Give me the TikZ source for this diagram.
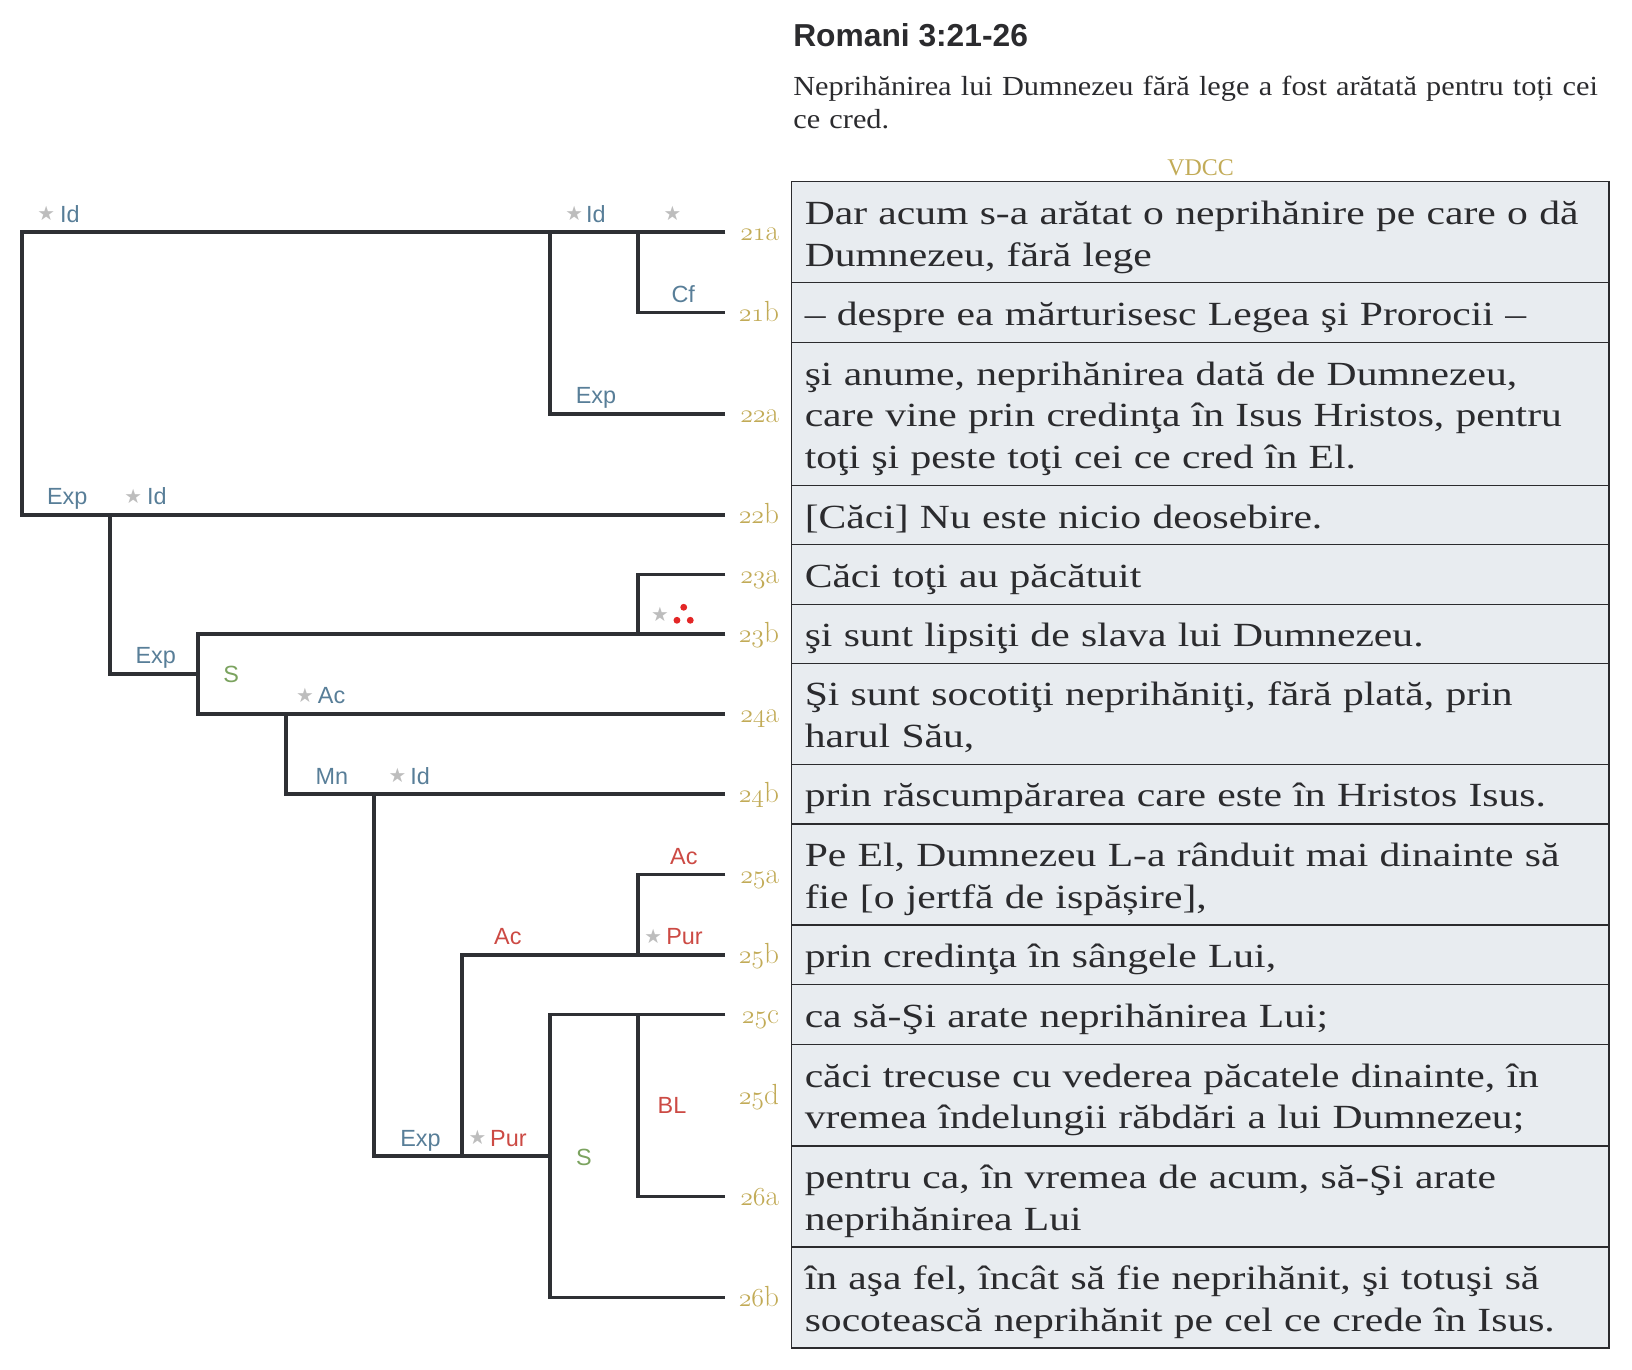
\documentclass[tikz,border=0pt]{standalone}
\usepackage{fontspec}
\setmainfont{Liberation Serif}
\newfontfamily\rowfont{Liberation Serif}[FakeStretch=1.23]
\newfontfamily\leadfont{Liberation Serif}[FakeStretch=1.10]
\newfontfamily\labfont{Liberation Sans}
\newfontfamily\starfont{DejaVu Sans}
\newfontfamily\lmfont{Latin Modern Roman}
\usetikzlibrary{positioning, calc}

\definecolor{inkdark}{HTML}{2B2B2E}
\definecolor{treeline}{HTML}{2E3034}
\definecolor{rowfill}{HTML}{E8ECF0}
\definecolor{versegold}{HTML}{C2AB57}
\definecolor{relblue}{HTML}{587E98}
\definecolor{relred}{HTML}{CC4A44}
\definecolor{relgreen}{HTML}{7BA35F}
\definecolor{stargray}{HTML}{BDBDBD}
\definecolor{dotred}{HTML}{E32626}

% verse number: old-style digits, then the letter
\newcommand\versenum[1]{\expandafter\versesplit#1\relax}
\def\versesplit#1#2#3\relax{{\usefont{OML}{lmm}{b}{it}#1#2}#3}

\begin{document}
\begin{tikzpicture}[
    x=1pt, y=-1pt,
    branch/.style={draw=treeline, line width=3.5pt},
    rowbox/.style={draw=inkdark, line width=1.4pt, fill=rowfill, anchor=north west,
      minimum width=785.3pt, inner sep=0pt, outer sep=0pt},
    rowtext/.style={anchor=base west, text width=770pt, inner sep=0pt, align=left,
      text=inkdark, font=\rowfont\fontsize{32.5}{40}\selectfont},
    verse/.style={anchor=base east, inner sep=0pt, text=versegold,
      font=\lmfont\fontsize{28}{30}\selectfont},
    rel/.style={anchor=base west, inner sep=0pt, font=\labfont\fontsize{22.5}{24}\selectfont},
    relb/.style={rel, text=relblue},
    relr/.style={rel, text=relred},
    relg/.style={rel, anchor=center, text=relgreen},
    star/.style={inner sep=0pt, text=stargray, font=\starfont\fontsize{19}{19}\selectfont}
]
\useasboundingbox (0,0) rectangle (1568,1316);

% heading
\node[anchor=base west, inner sep=0pt, text=inkdark,
  font=\labfont\bfseries\fontsize{30.5}{36}\selectfont] (title) at (762,45) {Romani 3:21-26};
\node[anchor=base west, inner sep=0pt, text width=840pt, align=left, text=inkdark,
  font=\leadfont\fontsize{26.5}{32}\selectfont] (lead) at (762,91.5)
  {Neprihănirea lui Dumnezeu fără lege a fost arătată pentru toți cei\\ce cred.};
\node[anchor=base, inner sep=0pt, text=versegold, font=\fontsize{23}{26}\selectfont]
  (vdcc) at (1153.5,169) {VDCC};

% table of verse parts
\foreach \nm/\ytop/\hgt/\txt in {
  21a/174.6/96.7/{Dar acum s-a arătat o neprihănire pe care o dă\\Dumnezeu, fără lege},
  21b/271.3/57.7/{– despre ea mărturisesc Legea şi Prorocii –},
  22a/329/137.3/{şi anume, neprihănirea dată de Dumnezeu,\\care vine prin credinţa în Isus Hristos, pentru\\toţi şi peste toţi cei ce cred în El.},
  22b/466.3/56.7/{[Căci] Nu este nicio deosebire.},
  23a/523/57.6/{Căci toţi au păcătuit},
  23b/580.6/56.7/{şi sunt lipsiţi de slava lui Dumnezeu.},
  24a/637.3/97/{Şi sunt socotiţi neprihăniţi, fără plată, prin\\harul Său,},
  24b/734.3/57.4/{prin răscumpărarea care este în Hristos Isus.},
  25a/791.7/97.1/{Pe El, Dumnezeu L-a rânduit mai dinainte să\\fie [o jertfă de ispășire],},
  25b/888.8/57.2/{prin credinţa în sângele Lui,},
  25c/946/57.5/{ca să-Şi arate neprihănirea Lui;},
  25d/1003.5/97.5/{căci trecuse cu vederea păcatele dinainte, în\\vremea îndelungii răbdări a lui Dumnezeu;},
  26a/1101/97/{pentru ca, în vremea de acum, să-Şi arate\\neprihănirea Lui},
  26b/1198/97/{în aşa fel, încât să fie neprihănit, şi totuşi să\\socotească neprihănit pe cel ce crede în Isus.}
}{
  \node[rowbox, minimum height=\hgt pt] (r\nm) at (760.7,\ytop) {};
  \node[rowtext] (t\nm) at (773,\ytop+41) {\txt};
  \node[verse] (v\nm) at ($(r\nm.west)+(-12,8.5)$) {\versenum{\nm}};
}

% tree columns and leaf ends
\coordinate (tip) at (697,0);
\foreach \i in {0,...,7}
  \coordinate (k\i) at (21+84.6*\i,0);
\coordinate (s1) at ($(k2 |- r23b)!.5!(k2 |- r24a)$);
\coordinate (s2) at ($(k6 |- r25c)!.5!(k6 |- r26b)$);

\draw[branch] (tip |- r21a) -| (k0 |- r22b) -- (tip |- r22b);
\draw[branch] (k6 |- r21a) |- (tip |- r22a);
\draw[branch] (k7 |- r21a) |- (tip |- r21b);
\draw[branch] (k1 |- r22b) |- (s1);
\draw[branch] (tip |- r23b) -| (s1) |- (tip |- r24a);
\draw[branch] (tip |- r23a) -| (k7 |- r23b);
\draw[branch] (k3 |- r24a) |- (tip |- r24b);
\draw[branch] (k4 |- r24b) |- (s2);
\draw[branch] (k5 |- s2) |- (tip |- r25b);
\draw[branch] (tip |- r25a) -| (k7 |- r25b);
\draw[branch] (tip |- r25c) -| (s2) |- (tip |- r26b);
\draw[branch] (k7 |- r25c) |- (tip |- r26a);

% relation labels
\node[star] (st1) at ($(k0 |- r21a)+(23.5,-18)$) {★};
\node[relb] (id1) at ($(k0 |- r21a)+(36.6,-9.5)$) {Id};
\node[star] (st2) at ($(k6 |- r21a)+(23,-18)$) {★};
\node[relb] (id2) at ($(k6 |- r21a)+(34.4,-9.5)$) {Id};
\node[star] (st3) at ($(k7 |- r21a)+(32.8,-18)$) {★};
\node[relb] (cf1) at ($(k7 |- r21b)+(31.8,-9.5)$) {Cf};
\node[relb] (exp1) at ($(k6 |- r22a)+(24.4,-9.5)$) {Exp};
\node[relb] (exp2) at ($(k0 |- r22b)+(24,-9.5)$) {Exp};
\node[star] (st4) at ($(k1 |- r22b)+(22.5,-18)$) {★};
\node[relb] (id3) at ($(k1 |- r22b)+(35.5,-9.5)$) {Id};
\node[relb] (exp3) at ($(k1 |- s1)+(24.4,-9.5)$) {Exp};
\node[relg] (ser1) at ($(s1)+(32,1)$) {S};
\node[star] (st5) at ($(k7 |- r23b)+(21,-18.7)$) {★};
\fill[dotred] ($(k7 |- r23b)+(43.7,-25.5)$) circle (3.3pt)
              ($(k7 |- r23b)+(37.2,-13)$) circle (3.3pt)
              ($(k7 |- r23b)+(50,-13)$) circle (3.3pt);
\node[star] (st6) at ($(k3 |- r24a)+(18.2,-18)$) {★};
\node[relb] (ac1) at ($(k3 |- r24a)+(30.5,-9.5)$) {Ac};
\node[relb] (mn1) at ($(k3 |- r24b)+(28.2,-9.5)$) {Mn};
\node[star] (st7) at ($(k4 |- r24b)+(22.6,-18)$) {★};
\node[relb] (id4) at ($(k4 |- r24b)+(34.6,-9.5)$) {Id};
\node[relb] (exp4) at ($(k4 |- s2)+(25,-9.5)$) {Exp};
\node[star] (st8) at ($(k5 |- s2)+(14.7,-18)$) {★};
\node[relr] (pur1) at ($(k5 |- s2)+(26.8,-9.5)$) {Pur};
\node[relr] (ac2) at ($(k5 |- r25b)+(30.6,-9.5)$) {Ac};
\node[relr] (ac3) at ($(k7 |- r25a)+(30.5,-9.5)$) {Ac};
\node[star] (st9) at ($(k7 |- r25b)+(14.5,-18)$) {★};
\node[relr] (pur2) at ($(k7 |- r25b)+(26.8,-9.5)$) {Pur};
\node[relg] (ser2) at ($(s2)+(32.4,1.4)$) {S};
\node[relr, anchor=center] (bl1) at ($(k7 |- r25c)!.5!(k7 |- r26a)+(32.5,0)$) {BL};
\end{tikzpicture}
\end{document}
